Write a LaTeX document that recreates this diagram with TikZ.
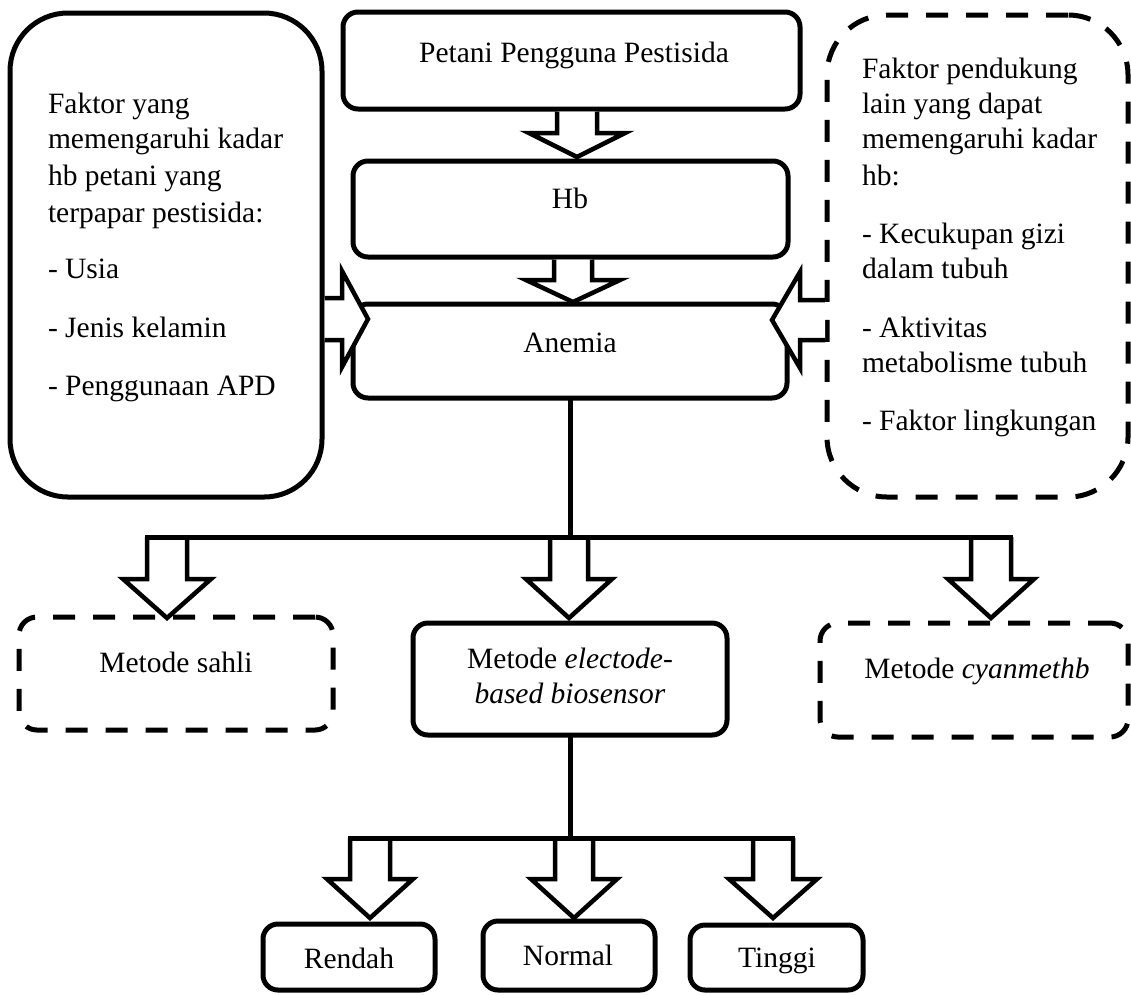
\documentclass[tikz,border=0pt]{standalone}
\usepackage{fontspec}
\setmainfont{Liberation Serif}
\newcommand{\varrow}[6]{% cx, y0, yb, yt, s, h
  \filldraw[arr] (#1-#5,#2) -- (#1-#5,#3) -- (#1-#6,#3) -- (#1,#4) -- (#1+#6,#3) -- (#1+#5,#3) -- (#1+#5,#2);}
\newcommand{\harrow}[6]{% cy, x0, xb, xt, s, h
  \filldraw[arr] (#2,#1-#5) -- (#3,#1-#5) -- (#3,#1-#6) -- (#4,#1) -- (#3,#1+#6) -- (#3,#1+#5) -- (#2,#1+#5);}
\tikzset{
  box/.style={draw, line width=5pt, rounded corners=15pt, inner sep=0pt, outer sep=0pt},
  dbox/.style={box, dash pattern=on 22pt off 18pt},
  arr/.style={draw, fill=white, line width=4.5pt, line join=miter},
  link/.style={line width=5pt},
  txt/.style={anchor=base, inner sep=0pt, outer sep=0pt, font=\fontsize{29.5}{35}\selectfont},
  ltxt/.style={txt, anchor=base west},
}
\begin{document}
\begin{tikzpicture}[x=1pt,y=-1pt]
\useasboundingbox (0,0) rectangle (1131,994);
% boxes
\node[box, rounded corners=58pt, minimum width=312pt, minimum height=484pt] (left) at (166,255) {};
\node[dbox, rounded corners=60pt, minimum width=301pt, minimum height=482pt] (right) at (977.5,256) {};
\node[box, minimum width=457pt, minimum height=97pt] (petani) at (571.5,60.5) {};
\node[box, minimum width=435pt, minimum height=96pt] (hb) at (570.5,209) {};
\node[box, minimum width=434pt, minimum height=94pt] (anemia) at (570,351) {};
\node[dbox, rounded corners=18pt, minimum width=314pt, minimum height=113pt] (sahli) at (176,673.5) {};
\node[box, minimum width=314pt, minimum height=112pt] (elec) at (570,679) {};
\node[dbox, rounded corners=18pt, minimum width=308pt, minimum height=114pt] (cyan) at (974,680) {};
\node[box, minimum width=172pt, minimum height=66pt] (rendah) at (349,957) {};
\node[box, minimum width=172pt, minimum height=69pt] (normal) at (569,955.5) {};
\node[box, minimum width=173pt, minimum height=65pt] (tinggi) at (776.5,957.5) {};
% texts
\node[txt] (tpetani) at (574,62) {Petani Pengguna Pestisida};
\node[txt] (thb) at (570,208) {Hb};
\node[txt] (tanemia) at (570,352) {Anemia};
\node[txt] (tsahli) at (176,672) {Metode sahli};
\node[txt] (telec1) at (570,668) {Metode \textit{electode-}};
\node[txt] (telec2) at (570,703) {\textit{based biosensor}};
\node[txt] (tcyan) at (977,678) {Metode \textit{cyanmethb}};
\node[txt] (trendah) at (349,968) {Rendah};
\node[txt] (tnormal) at (568,965) {Normal};
\node[txt] (ttinggi) at (777,967) {Tinggi};
\node[ltxt] (l1) at (48,113) {Faktor yang};
\node[ltxt] (l2) at (48,148) {memengaruhi kadar};
\node[ltxt] (l3) at (48,185) {hb petani yang};
\node[ltxt] (l4) at (48,222) {terpapar pestisida:};
\node[ltxt] (l5) at (48,278) {- Usia};
\node[ltxt] (l6) at (48,337) {- Jenis kelamin};
\node[ltxt] (l7) at (48,395) {- Penggunaan APD};
\node[ltxt] (r1) at (862,78) {Faktor pendukung};
\node[ltxt] (r2) at (862,113) {lain yang dapat};
\node[ltxt] (r3) at (862,148) {memengaruhi kadar};
\node[ltxt] (r4) at (862,185) {hb:};
\node[ltxt] (r5) at (862,243) {- Kecukupan gizi};
\node[ltxt] (r6) at (862,278) {dalam tubuh};
\node[ltxt] (r7) at (862,337) {- Aktivitas};
\node[ltxt] (r8) at (862,372) {metabolisme tubuh};
\node[ltxt] (r9) at (862,430) {- Faktor lingkungan};
% block arrows
\varrow{577}{111.5}{133}{157}{20}{48}
\varrow{573}{259.5}{280}{302}{19}{47}
\harrow{319}{324.5}{342}{368}{21}{48}
\harrow{320}{825}{800}{772}{20}{48}
\varrow{167}{537}{579}{618}{20}{44}
\varrow{569}{537}{579}{618}{19}{43}
\varrow{991}{537}{579}{618}{20}{43}
\varrow{370}{838}{879}{918}{20}{43}
\varrow{574}{838}{879}{918}{19}{43}
\varrow{773}{838}{879}{918}{20}{44}
% connector lines
\coordinate (j1) at (570,537);
\coordinate (b1l) at (144.75,537);
\coordinate (b1r) at (1013.25,537);
\coordinate (j2) at (570,838);
\coordinate (b2l) at (347.75,838);
\coordinate (b2r) at (795.25,838);
\draw[link] (anemia.south) -- (j1);
\draw[link] (b1l) -- (b1r);
\draw[link] (elec.south) -- (j2);
\draw[link] (b2l) -- (b2r);
\end{tikzpicture}
\end{document}
